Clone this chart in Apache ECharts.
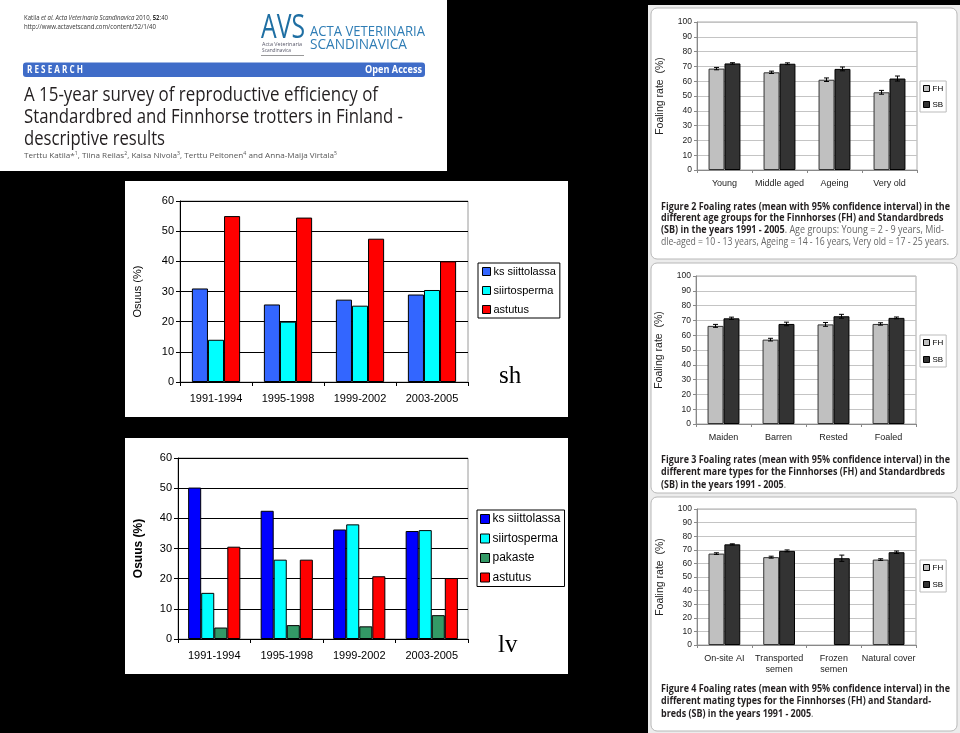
<!DOCTYPE html>
<html><head><meta charset="utf-8">
<script src="https://cdn.jsdelivr.net/npm/echarts@6/dist/echarts.min.js"></script>
<style>html,body{margin:0;padding:0;background:#000}#c{width:960px;height:733px}</style>
</head><body><div id="c"></div>
<script>
// ---------- data ----------
const periods = ['1991-1994', '1995-1998', '1999-2002', '2003-2005'];
const shKs = [31, 25.7, 27.3, 29];
const shSiirto = [14, 20, 25.3, 30.5];
const shAstutus = [55, 54.5, 47.5, 40];
const lvKs = [50.2, 42.5, 36.3, 35.8];
const lvSiirto = [15.3, 26.3, 38, 36.1];
const lvPakaste = [3.8, 4.6, 4.2, 7.9];
const lvAstutus = [30.6, 26.3, 20.8, 20.2];

const ageGroups = ['Young', 'Middle aged', 'Ageing', 'Very old'];
const ageFH = [68.5, 66, 61, 52.5];
const ageFHci = [0.8, 0.8, 1.2, 1.3];
const ageSB = [72, 71.8, 68.3, 61.8];
const ageSBci = [0.5, 0.6, 1.3, 1.7];

const mareTypes = ['Maiden', 'Barren', 'Rested', 'Foaled'];
const mareFH = [66.3, 57, 67.3, 67.6];
const mareFHci = [1, 0.9, 1.3, 0.8];
const mareSB = [71.4, 67.6, 72.8, 71.7];
const mareSBci = [0.8, 1.2, 1.3, 0.6];

const matingTypes = ['On-site AI', 'Transported\nsemen', 'Frozen\nsemen', 'Natural cover'];
const matingFH = [67.2, 64.6, null, 62.8];
const matingFHci = [0.6, 0.7, null, 0.6];
const matingSB = [74, 69.2, 63.8, 68.2];
const matingSBci = [0.4, 0.7, 2.3, 0.9];

const shLegend = ['ks siittolassa', 'siirtosperma', 'astutus'];
const lvLegend = ['ks siittolassa', 'siirtosperma', 'pakaste', 'astutus'];
const figLegend = ['FH', 'SB'];

// ---------- helpers ----------
const mctx = document.createElement('canvas').getContext('2d');
function fontStr(s) { return (s.style || 'normal') + ' ' + (s.weight || 'normal') + ' ' + s.size + 'px ' + s.family; }
function measure(t, f) { mctx.font = f; return mctx.measureText(t).width; }
function natWidth(segs) { let w = 0; segs.forEach(s => w += measure(s.t, fontStr(s))); return w; }
function line(x, y, segs, target, scale) {
  let w = 0; const kids = [];
  segs.forEach(s => {
    const f = fontStr(s);
    kids.push({ type: 'text', x: w, y: s.dy || 0, z: 100, style: { text: s.t, font: f, fill: s.color || '#222', textAlign: 'left', textVerticalAlign: 'middle', verticalAlign: 'middle' } });
    w += measure(s.t, f);
  });
  const sx = scale != null ? scale : (target ? target / w : 1);
  return { type: 'group', x: x, y: y, scaleX: sx, children: kids, z: 100 };
}
const SANS = '"Liberation Sans", Arial, sans-serif';
const MY = '"Open Sans", sans-serif';

function errSeries(name, ax, means, cis, side) {
  const data = [];
  means.forEach((m, i) => { if (m != null) data.push([i, m - cis[i], m + cis[i]]); });
  return {
    type: 'custom', name: name, xAxisIndex: ax, yAxisIndex: ax, z: 5, silent: true,
    data: data, encode: { x: 0, y: [1, 2] },
    renderItem(params, api) {
      const i = api.value(0);
      const lo = api.coord([i, api.value(1)]);
      const hi = api.coord([i, api.value(2)]);
      const band = api.size([1, 0])[0];
      const x = lo[0] + side * band * 0.145;
      const c = 2.5, st = { stroke: '#000', lineWidth: 1 };
      return { type: 'group', children: [
        { type: 'line', shape: { x1: x, y1: lo[1], x2: x, y2: hi[1] }, style: st },
        { type: 'line', shape: { x1: x - c, y1: lo[1], x2: x + c, y2: lo[1] }, style: st },
        { type: 'line', shape: { x1: x - c, y1: hi[1], x2: x + c, y2: hi[1] }, style: st }
      ] };
    }
  };
}

function shLvAxes(ax, cats, bold, nameGap, fs) {
  return {
    x: { type: 'category', gridIndex: ax, data: cats,
      axisLine: { lineStyle: { color: '#000' } }, axisTick: { show: true, length: 4, lineStyle: { color: '#000' } },
      axisLabel: { color: '#000', fontSize: 11, fontFamily: SANS, margin: 11 } },
    y: { type: 'value', gridIndex: ax, min: 0, max: 60, interval: 10, name: 'Osuus (%)', nameLocation: 'middle', nameGap: nameGap,
      nameTextStyle: { color: '#000', fontSize: fs, fontFamily: SANS, fontWeight: bold ? 'bold' : 'normal' },
      axisLine: { show: true, lineStyle: { color: '#000' } }, axisTick: { show: true, length: 4, lineStyle: { color: '#000' } },
      splitLine: { lineStyle: { color: '#000' } },
      axisLabel: { color: '#000', fontSize: 11, fontFamily: SANS, margin: 6 } }
  };
}
function figAxes(ax, cats) {
  return {
    x: { type: 'category', gridIndex: ax, data: cats,
      axisLine: { lineStyle: { color: '#888' } }, axisTick: { show: true, length: 3, lineStyle: { color: '#888' } },
      axisLabel: { color: '#222', fontSize: 9, fontFamily: SANS, margin: 8, interval: 0, lineHeight: 11 } },
    y: { type: 'value', gridIndex: ax, min: 0, max: 100, interval: 10, name: 'Foaling rate  (%)', nameLocation: 'middle', nameGap: 31,
      nameTextStyle: { color: '#222', fontSize: 10.5, fontFamily: SANS },
      axisLine: { show: true, lineStyle: { color: '#888' } }, axisTick: { show: true, length: 3, lineStyle: { color: '#888' } },
      splitLine: { lineStyle: { color: '#c4c4c4' } },
      axisLabel: { color: '#222', fontSize: 8.5, fontFamily: SANS, margin: 5 } }
  };
}
const A = [shLvAxes(0, periods, false, 37, 11), shLvAxes(1, periods, true, 33, 12),
  figAxes(2, ageGroups), figAxes(3, mareTypes), figAxes(4, matingTypes)];

function bar(name, ax, data, color, extra) {
  return Object.assign({ type: 'bar', name: name, xAxisIndex: ax, yAxisIndex: ax, data: data,
    itemStyle: { color: color, borderColor: '#000', borderWidth: 1 } }, extra || {});
}
function figBars(ax, fh, fhci, sb, sbci) {
  return [
    bar('FH', ax, fh, '#c0c0c0', { barWidth: '29%', barGap: '0%', itemStyle: { color: '#c0c0c0', borderColor: '#333', borderWidth: 1 } }),
    bar('SB', ax, sb, '#333333', { barWidth: '29%', barGap: '0%', itemStyle: { color: '#333333', borderColor: '#000', borderWidth: 1 } }),
    errSeries('FH ci', ax, fh, fhci, -1), errSeries('SB ci', ax, sb, sbci, 1)
  ];
}

const shColors = { 'ks siittolassa': '#3366ff', 'siirtosperma': '#00ffff', 'astutus': '#ff0000' };
const lvColors = { 'ks siittolassa': '#0000ff', 'siirtosperma': '#00ffff', 'pakaste': '#339966', 'astutus': '#ff0000' };
const figColors = { 'FH': '#c0c0c0', 'SB': '#333333' };

function legend(names, colors, pos, fs, icon, lh, gap, border, pad) {
  return Object.assign({
    orient: 'vertical', icon: 'rect', itemWidth: icon, itemHeight: icon, itemGap: gap, padding: pad,
    backgroundColor: '#fff', borderColor: border, borderWidth: 1, borderRadius: 0, selectedMode: false,
    textStyle: { color: '#000', fontSize: fs, fontFamily: SANS, lineHeight: lh, padding: [0, 0, 0, -2] },
    data: names.map(n => ({ name: n, itemStyle: { color: colors[n], borderColor: '#000', borderWidth: 1 } }))
  }, pos);
}

// ---------- decorative / text layer ----------
const G = [];
// header panel
G.push({ type: 'rect', shape: { x: 0, y: 0, width: 447, height: 171 }, style: { fill: '#fff' }, z: -10 });
G.push(line(24, 18, [
  { t: 'Katila ', size: 6.5, family: MY, color: '#333' },
  { t: 'et al. Acta Veterinaria Scandinavica', size: 6.5, family: MY, style: 'italic', color: '#333' },
  { t: ' 2010, ', size: 6.5, family: MY, color: '#333' },
  { t: '52', size: 6.5, family: MY, weight: 'bold', color: '#333' },
  { t: ':40', size: 6.5, family: MY, color: '#333' }], 144));
G.push(line(24, 27, [{ t: 'http://www.actavetscand.com/content/52/1/40', size: 6.5, family: MY, color: '#333' }], 132));
G.push(line(261, 29, [{ t: 'AVS', size: 32, family: MY, color: '#1f6fa3' }], 44));
G.push(line(262, 45, [{ t: 'Acta Veterinaria', size: 5, family: MY, color: '#556' }], 40));
G.push(line(262, 50.5, [{ t: 'Scandinavica', size: 5, family: MY, color: '#556' }], 29));
G.push({ type: 'line', shape: { x1: 261, y1: 55.5, x2: 304, y2: 55.5 }, style: { stroke: '#999', lineWidth: 1 }, z: 100 });
G.push(line(310, 32, [{ t: 'ACTA VETERINARIA', size: 15, family: MY, color: '#2f7db5' }], 115));
G.push(line(310, 45, [{ t: 'SCANDINAVICA', size: 15, family: MY, color: '#2f7db5' }], 97));
G.push({ type: 'rect', shape: { x: 23, y: 62.5, width: 402, height: 14.5, r: 3 }, style: { fill: '#3f6cc8' }, z: 50 });
G.push(line(27, 70, [{ t: 'R E S E A R C H', size: 10, family: MY, weight: 'bold', color: '#fff' }], 56));
G.push(line(365, 70, [{ t: 'Open Access', size: 10, family: MY, weight: 'bold', color: '#fff' }], 57));
G.push(line(24, 95, [{ t: 'A 15-year survey of reproductive efficiency of', size: 20, family: MY, color: '#231f20' }], 354));
G.push(line(24, 117, [{ t: 'Standardbred and Finnhorse trotters in Finland -', size: 20, family: MY, color: '#231f20' }], 379));
G.push(line(24, 139, [{ t: 'descriptive results', size: 20, family: MY, color: '#231f20' }], 141));
const au = (t) => ({ t: t, size: 7, family: MY, color: '#555' });
const sup = (t) => ({ t: t, size: 4.5, family: MY, color: '#555', dy: -2 });
G.push(line(24, 156, [au('Terttu Katila*'), sup('1'), au(', Tiina Reilas'), sup('2'), au(', Kaisa Nivola'), sup('3'),
  au(', Terttu Peltonen'), sup('4'), au(' and Anna-Maija Virtala'), sup('5')], 313));

// sh & lv panels
G.push({ type: 'rect', shape: { x: 125, y: 181, width: 443, height: 236 }, style: { fill: '#fff' }, z: -10 });
G.push({ type: 'rect', shape: { x: 125, y: 438, width: 443, height: 236 }, style: { fill: '#fff' }, z: -10 });
G.push({ type: 'text', x: 499, y: 376, style: { text: 'sh', font: 'normal 25px "Liberation Serif", serif', fill: '#000', textVerticalAlign: 'middle', verticalAlign: 'middle' }, z: 100 });
G.push({ type: 'text', x: 498, y: 645, style: { text: 'lv', font: 'normal 25px "Liberation Serif", serif', fill: '#000', textVerticalAlign: 'middle', verticalAlign: 'middle' }, z: 100 });

// right column
G.push({ type: 'rect', shape: { x: 648, y: 5, width: 312, height: 728 }, style: { fill: '#ececec' }, z: -12 });
[[8, 251], [263, 230], [497, 234]].forEach(p => {
  G.push({ type: 'rect', shape: { x: 651, y: p[0], width: 306, height: p[1], r: 6 }, style: { fill: '#fff', stroke: '#b8b8b8', lineWidth: 1 }, z: -10 });
});
const CB = (t) => ({ t: t, size: 10, family: MY, weight: 'bold', color: '#231f20' });
const CR = (t) => ({ t: t, size: 10, family: MY, color: '#666' });
const capScale = 289 / natWidth([CB('Figure 2 Foaling rates (mean with 95% confidence interval) in the')]);
function caption(lines, ys, targets) {
  lines.forEach((l, i) => G.push(line(661, ys[i], l, targets && targets[i], targets && targets[i] ? null : capScale)));
}
caption([
  [CB('Figure 2 Foaling rates (mean with 95% confidence interval) in the')],
  [CB('different age groups for the Finnhorses (FH) and Standardbreds')],
  [CB('(SB) in the years 1991 - 2005'), CR('. Age groups: Young = 2 - 9 years, Mid-')],
  [CR('dle-aged = 10 - 13 years, Ageing = 14 - 16 years, Very old = 17 - 25 years.')]
], [207, 218.5, 230, 242], [null, null, 283, 288]);
caption([
  [CB('Figure 3 Foaling rates (mean with 95% confidence interval) in the')],
  [CB('different mare types for the Finnhorses (FH) and Standardbreds')],
  [CB('(SB) in the years 1991 - 2005'), CR('.')]
], [460, 472.5, 485]);
caption([
  [CB('Figure 4 Foaling rates (mean with 95% confidence interval) in the')],
  [CB('different mating types for the Finnhorses (FH) and Standard-')],
  [CB('breds (SB) in the years 1991 - 2005'), CR('.')]
], [689, 701.5, 714]);

// ---------- chart ----------
const chart = echarts.init(document.getElementById('c'), null, { renderer: 'canvas' });
const gridStyle = (b) => ({ show: true, backgroundColor: '#fff', borderColor: b, borderWidth: 1, containLabel: false });
chart.setOption({
  animation: false,
  backgroundColor: '#000',
  graphic: { elements: G },
  grid: [
    Object.assign({ left: 180, top: 201, width: 288, height: 181 }, gridStyle('#9a9a9a')),
    Object.assign({ left: 178, top: 458, width: 290, height: 181 }, gridStyle('#9a9a9a')),
    Object.assign({ left: 697, top: 22, width: 220, height: 148 }, gridStyle('#aaa')),
    Object.assign({ left: 696, top: 276, width: 220, height: 148 }, gridStyle('#aaa')),
    Object.assign({ left: 697, top: 509, width: 219, height: 136 }, gridStyle('#aaa'))
  ],
  xAxis: A.map(a => a.x),
  yAxis: A.map(a => a.y),
  legend: [
    legend(shLegend, shColors, { left: 478, top: 263 }, 11, 8, 13, 6, '#000', [2, 4, 2, 4]),
    legend(lvLegend, lvColors, { left: 477, top: 510 }, 12, 9, 14, 5.5, '#000', [2, 4, 2, 3]),
    legend(figLegend, figColors, { left: 920, top: 81 }, 8, 6, 9, 7, '#bbb', [3, 3, 3, 3]),
    legend(figLegend, figColors, { left: 920, top: 335 }, 8, 6, 9, 8, '#bbb', [3, 3, 3, 3]),
    legend(figLegend, figColors, { left: 920, top: 560 }, 8, 6, 9, 8, '#bbb', [3, 3, 3, 3])
  ],
  series: [
    bar('ks siittolassa', 0, shKs, '#3366ff', { barGap: '0%', barCategoryGap: '33%' }),
    bar('siirtosperma', 0, shSiirto, '#00ffff'),
    bar('astutus', 0, shAstutus, '#ff0000'),
    bar('ks siittolassa', 1, lvKs, '#0000ff', { barGap: '0%', barCategoryGap: '28%' }),
    bar('siirtosperma', 1, lvSiirto, '#00ffff'),
    bar('pakaste', 1, lvPakaste, '#339966'),
    bar('astutus', 1, lvAstutus, '#ff0000')
  ].concat(figBars(2, ageFH, ageFHci, ageSB, ageSBci))
   .concat(figBars(3, mareFH, mareFHci, mareSB, mareSBci))
   .concat(figBars(4, matingFH, matingFHci, matingSB, matingSBci))
});
</script>
</body></html>
